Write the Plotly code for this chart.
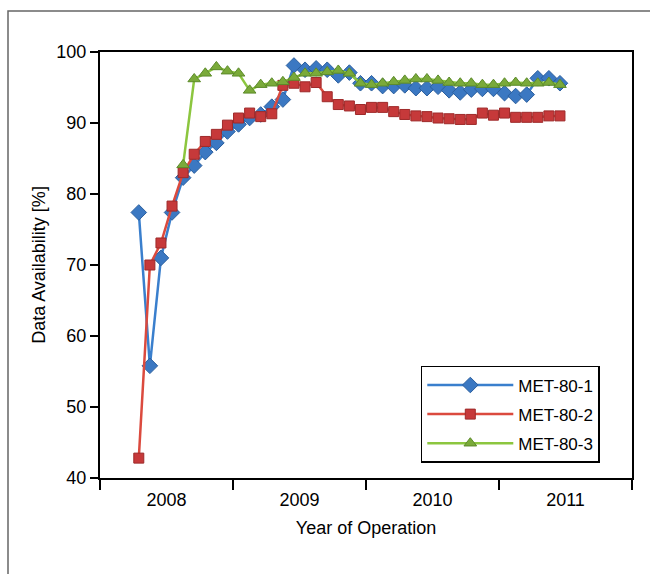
import plotly.graph_objects as go

# Monthly positions: month index counted from Jan 2008 = 1
months_12 = list(range(4, 43))   # Apr 2008 .. Jun 2011
months_3 = list(range(8, 43))    # Aug 2008 .. Jun 2011

met1 = [77.4, 55.8, 71.0, 77.4, 82.3, 84.0, 85.9, 87.2, 88.8,
        89.8, 90.7, 91.2, 92.3, 93.3, 98.1, 97.5, 97.7, 97.5, 96.7, 97.1, 95.6,
        95.6, 95.2, 95.2, 95.3, 94.9, 94.9, 95.1, 94.6, 94.3, 94.7, 94.8, 94.8,
        94.2, 93.8, 94.0, 96.3, 96.3, 95.6]
met2 = [42.8, 70.0, 73.1, 78.3, 83.0, 85.6, 87.4, 88.4, 89.7,
        90.7, 91.4, 90.9, 91.3, 95.3, 95.6, 95.1, 95.7, 93.7, 92.6, 92.4, 91.9,
        92.2, 92.2, 91.6, 91.2, 91.0, 90.9, 90.7, 90.6, 90.5, 90.5, 91.4, 91.1,
        91.4, 90.8, 90.8, 90.8, 91.0, 91.0]
met3 = [84.1, 96.2, 97.0, 97.9, 97.3,
        97.0, 94.6, 95.4, 95.6, 95.8, 96.4, 97.0, 97.0, 97.2, 97.4, 97.0, 95.6,
        95.4, 95.6, 95.8, 96.0, 96.2, 96.2, 96.0, 95.7, 95.6, 95.6, 95.4, 95.4,
        95.6, 95.7, 95.6, 95.6, 95.7, 95.4]

years = [2008, 2009, 2010, 2011]
year_bounds = [2008, 2009, 2010, 2011, 2012]
y_ticks = [40, 50, 60, 70, 80, 90, 100]


def to_x(ms):
    return [2008 + (m - 0.5) / 12 for m in ms]


fig = go.Figure()
fig.add_trace(go.Scatter(
    x=to_x(months_12), y=met1, name="MET-80-1", mode="lines+markers",
    legendgroup="a",
    line=dict(color="#3a7fcd", width=2.5),
    marker=dict(symbol="diamond", size=12, color="#3b78c2",
                line=dict(color="#2b5f9e", width=1))))
fig.add_trace(go.Scatter(
    x=to_x(months_12), y=met2, name="MET-80-2", mode="lines+markers",
    legendgroup="b",
    line=dict(color="#db4a3e", width=2.5),
    marker=dict(symbol="square", size=10, color="#c6393a",
                line=dict(color="#9e2a2a", width=1))))
fig.add_trace(go.Scatter(
    x=to_x(months_3), y=met3, name="MET-80-3", mode="lines+markers",
    legendgroup="c",
    line=dict(color="#8cc63f", width=2.5),
    marker=dict(symbol="triangle-up", size=11, color="#7aaa3a",
                line=dict(color="#5c8a2a", width=1))))

font_family = "Liberation Sans, Arial, sans-serif"

fig.update_layout(
    width=650, height=574,
    margin=dict(l=100, r=18, t=52, b=96),
    paper_bgcolor="white", plot_bgcolor="white",
    font=dict(family=font_family, size=17, color="black"),
    showlegend=True,
    legend=dict(
        x=0.603, y=0.263, xanchor="left", yanchor="top",
        bgcolor="white", bordercolor="black", borderwidth=1.5,
        traceorder="grouped", tracegroupgap=4,
        itemwidth=86,
        font=dict(family=font_family, size=17, color="black"),
    ),
    xaxis=dict(
        range=[2008, 2012], tickmode="array",
        tickvals=[y + 0.5 for y in years], ticktext=[str(y) for y in years],
        ticks="", showgrid=False, zeroline=False,
        showline=True, linecolor="black", linewidth=2, mirror=True,
        ticklabelstandoff=4,
        minor=dict(tickmode="array", tickvals=year_bounds, ticks="outside",
                   ticklen=10, tickwidth=2, tickcolor="black", showgrid=False),
        title=dict(text="Year of Operation", standoff=13,
                   font=dict(family=font_family, size=18)),
        tickfont=dict(family=font_family, size=18),
    ),
    yaxis=dict(
        range=[40, 100], tickmode="array", tickvals=y_ticks,
        ticks="outside", ticklen=8, tickwidth=2, tickcolor="black",
        showgrid=False, zeroline=False,
        showline=True, linecolor="black", linewidth=2, mirror=True,
        title=dict(text="Data Availability [%]", standoff=6,
                   font=dict(family=font_family, size=18)),
        tickfont=dict(family=font_family, size=18),
    ),
    shapes=[dict(type="rect", xref="paper", yref="paper",
                 x0=(8 - 100) / 532, x1=(680 - 100) / 532,
                 y0=(478 - 600) / 426, y1=(478 - 11) / 426,
                 line=dict(color="#666666", width=1.5), layer="below")],
)

fig.write_html("out.html")
